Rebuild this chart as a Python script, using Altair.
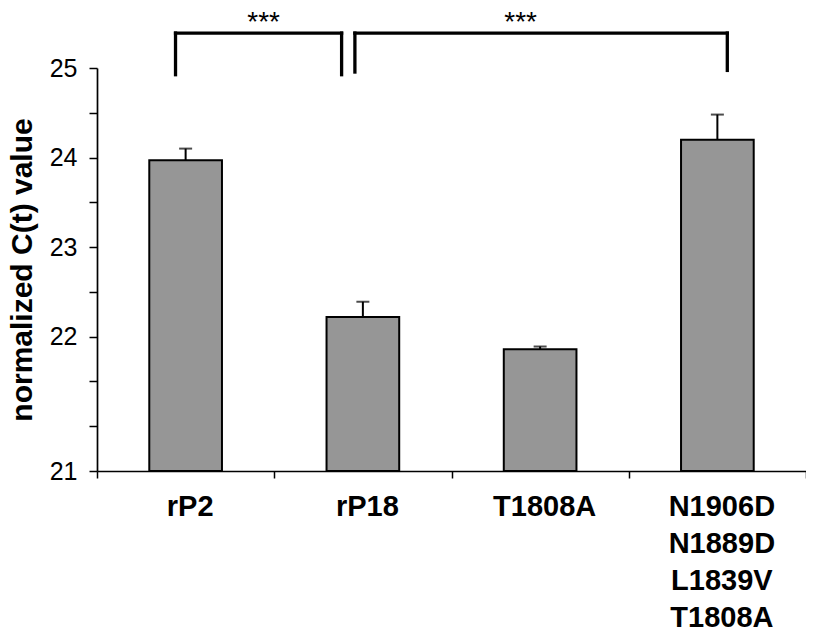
import altair as alt
import pandas as pd

# ---- data ----
categories = ["rP2", "rP18", "T1808A", "N1906D N1889D L1839V T1808A"]
means = [23.97, 22.22, 21.86, 24.20]
errors = [0.13, 0.17, 0.03, 0.28]

# y axis: ticks every 0.5, labels as printed in the reference
ytick_values = [20.5, 21.0, 21.5, 22.0, 22.5, 23.0, 23.5, 24.0, 24.5, 25.0]
ylabel_positions = [20.5, 22.0, 23.0, 24.0, 25.0]
ylabel_texts = ["21", "22", "23", "24", "25"]
ydomain = [20.5, 25]

# significance brackets (x in category-slot units 0..4, y in data units)
bracket_left_x = [0.443, 1.455]
bracket_right_x = [1.380, 3.556]
bracket_top = [25.39, 25.39]
bracket_left_bottom = [24.925, 24.955]
bracket_right_bottom = [24.925, 24.973]
star_x = [0.94, 2.39]
star_y = [25.41, 25.41]
star_text = ["***", "***"]

# ---- tables ----
df = pd.DataFrame({"cat": categories, "mean": means, "err": errors})
df["top"] = df["mean"] + df["err"]
df["base"] = ydomain[0]

vert = pd.DataFrame({
    "x": bracket_left_x + bracket_right_x,
    "y1": bracket_left_bottom + bracket_right_bottom,
    "y2": bracket_top + bracket_top,
})
horiz = pd.DataFrame({"x1": bracket_left_x, "x2": bracket_right_x, "y": bracket_top})
stars = pd.DataFrame({"x": star_x, "y": star_y, "t": star_text})

label_expr = " : ".join(
    f"datum.value == {p} ? '{t}'" for p, t in zip(ylabel_positions, ylabel_texts)
) + " : ''"

FONT = "Liberation Sans"

yscale = alt.Scale(domain=ydomain, nice=False, zero=False)

xenc = alt.X(
    "cat:N",
    sort=categories,
    scale=alt.Scale(paddingInner=0, paddingOuter=0),
    axis=alt.Axis(
        title=None,
        labelAngle=0,
        tickBand="extent",
        labelExpr="split(datum.label, ' ')",
        labelOverlap=False,
        labelFont=FONT,
        labelFontSize=29,
        labelFontWeight="bold",
        labelColor="black",
        labelLineHeight=37,
        labelPadding=14,
        labelOffset=4,
        labelBaseline="top",
        labelLimit=0,
        domainColor="black",
        domainWidth=1.7,
        tickColor="black",
        tickWidth=1.5,
        tickSize=7,
        grid=False,
    ),
)

yenc = alt.Y(
    "mean:Q",
    scale=yscale,
    axis=alt.Axis(
        title="normalized C(t) value",
        titleFont=FONT,
        titleFontSize=30,
        titleFontWeight="bold",
        titleColor="black",
        titlePadding=12,
        values=ytick_values,
        labelExpr=label_expr,
        labelOverlap=False,
        labelFont=FONT,
        labelFontSize=25,
        labelColor="black",
        labelPadding=12,
        domainColor="black",
        domainWidth=1.7,
        tickColor="black",
        tickWidth=1.5,
        tickSize=8,
        grid=False,
    ),
)

base = alt.Chart(df)
bars = base.mark_bar(
    width=alt.RelativeBandSize(0.41), color="#969696", stroke="black", strokeWidth=2
).encode(x=xenc, y=yenc, y2="base:Q")
err_rule = base.mark_rule(color="black", strokeWidth=2).encode(
    x=alt.X("cat:N", sort=categories),
    y=alt.Y("mean:Q", scale=yscale),
    y2="top:Q",
)
err_cap = base.mark_tick(color="black", thickness=2, size=13, orient="horizontal").encode(
    x=alt.X("cat:N", sort=categories),
    y=alt.Y("top:Q", scale=yscale),
)
main = alt.layer(bars, err_rule, err_cap)

xq = alt.Scale(domain=[0, 4], nice=False, zero=False)
v_rules = alt.Chart(vert).mark_rule(color="black", strokeWidth=3.3, strokeCap="square").encode(
    x=alt.X("x:Q", scale=xq, axis=None),
    y=alt.Y("y1:Q", scale=yscale, axis=None),
    y2="y2:Q",
)
h_rules = alt.Chart(horiz).mark_rule(color="black", strokeWidth=3.3, strokeCap="square").encode(
    x=alt.X("x1:Q", scale=xq, axis=None),
    x2="x2:Q",
    y=alt.Y("y:Q", scale=yscale, axis=None),
)
star_marks = alt.Chart(stars).mark_text(
    font=FONT, fontSize=28, color="black", baseline="alphabetic", align="center"
).encode(
    x=alt.X("x:Q", scale=xq, axis=None),
    y=alt.Y("y:Q", scale=yscale, axis=None),
    text="t:N",
)
overlay = alt.layer(v_rules, h_rules, star_marks)

chart = (
    alt.layer(main, overlay)
    .resolve_scale(x="independent")
    .resolve_axis(y="independent")
    .properties(
        width=709,
        height=403,
        autosize=alt.AutoSizeParams(type="none"),
        padding={"left": 89, "top": 60, "right": 0, "bottom": 160},
        background="white",
    )
    .configure_view(stroke=None)
)

chart.save("out.html", embed_options={"renderer": "svg", "actions": False})
